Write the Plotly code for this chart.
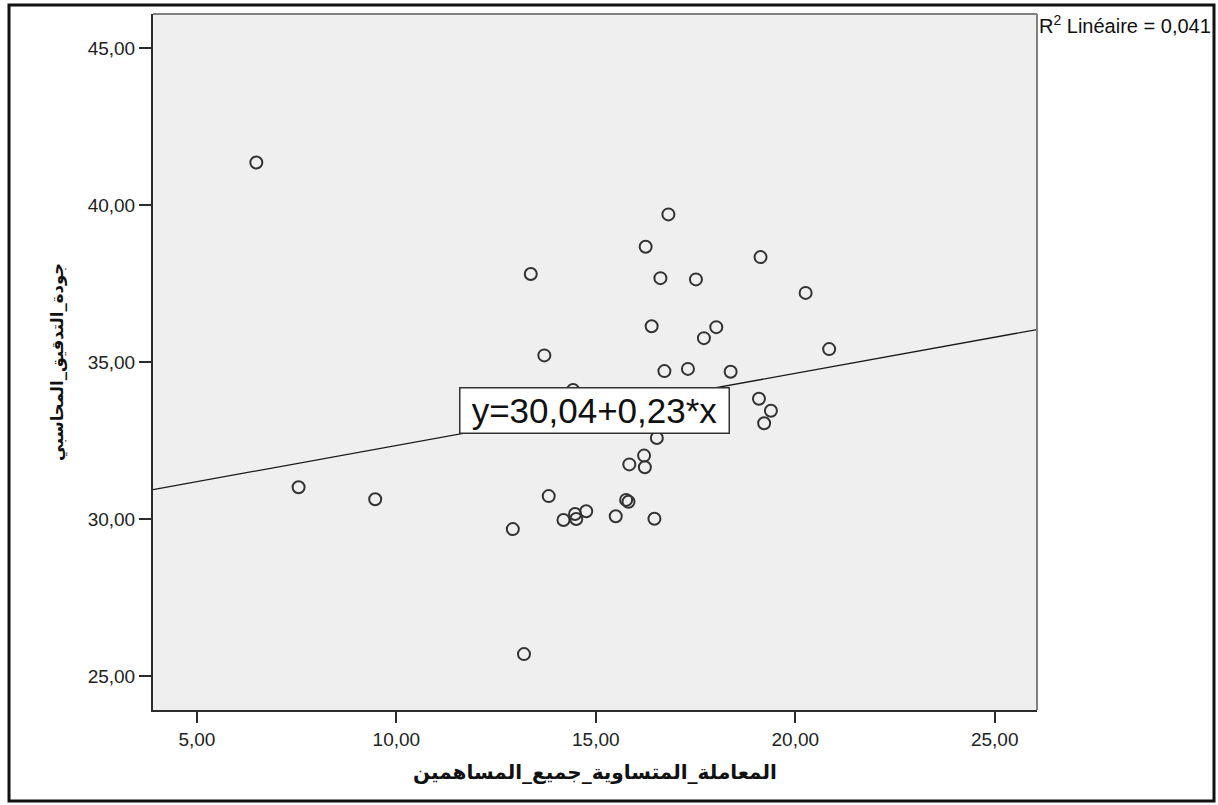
import plotly.graph_objects as go

# Observations: equal treatment of shareholders (x) vs. audit quality (y)
x_values = [6.49, 16.82, 16.25, 19.13, 13.37, 16.62, 17.51, 20.26, 16.40, 18.02,
            17.71, 20.85, 13.71, 16.72, 17.31, 18.38, 14.43, 19.09, 19.39, 19.22,
            16.53, 16.21, 15.84, 16.23, 7.55, 9.47, 13.82, 15.76, 15.82, 14.76,
            14.48, 14.19, 14.51, 15.50, 16.47, 12.92, 13.20]
y_values = [41.35, 39.70, 38.67, 38.34, 37.80, 37.67, 37.63, 37.20, 36.14, 36.11,
            35.76, 35.41, 35.21, 34.71, 34.78, 34.69, 34.11, 33.83, 33.45, 33.05,
            32.58, 32.02, 31.74, 31.65, 31.01, 30.63, 30.73, 30.61, 30.55, 30.25,
            30.16, 29.97, 30.00, 30.09, 30.01, 29.68, 25.70]

# Linear fit reported on the chart
intercept = 30.04
slope = 0.23
r_squared = "0,041"

x_ticks = [5, 10, 15, 20, 25]
x_tick_labels = ["5,00", "10,00", "15,00", "20,00", "25,00"]
y_ticks = [25, 30, 35, 40, 45]
y_tick_labels = ["25,00", "30,00", "35,00", "40,00", "45,00"]

x_title = "المعاملة_المتساوية_جميع_المساهمين"
y_title = "جودة_التدقيق_المحاسبي"

x_range = [3.9, 26.06]
y_range = [23.92, 46.08]

W, H = 1218, 805
L, R, T, B = 153, 181, 14, 95
pw, ph = W - L - R, H - T - B


def px_to_paper_x(px):
    return (px - L) / pw


def px_to_paper_y(py):
    return (H - B - py) / ph


latin = "Liberation Sans, Arial, sans-serif"
arabic = "DejaVu Sans, sans-serif"

fig = go.Figure()

fit_x = x_range
fit_y = [intercept + slope * v for v in fit_x]
fig.add_trace(go.Scatter(
    x=fit_x, y=fit_y, mode="lines",
    line=dict(color="#1a1a1a", width=1.3),
    hoverinfo="skip", showlegend=False,
))

fig.add_trace(go.Scatter(
    x=x_values, y=y_values, mode="markers",
    marker=dict(symbol="circle-open", size=12, color="#333333",
                line=dict(width=2, color="#333333")),
    showlegend=False,
))

axis_common = dict(
    showgrid=False, zeroline=False,
    showline=True, linecolor="#2b2b2b", linewidth=2,
    ticks="outside", tickwidth=2, tickcolor="#2b2b2b",
    tickfont=dict(family=latin, size=19, color="#222222"),
)

fig.update_xaxes(range=x_range, tickvals=x_ticks, ticktext=x_tick_labels,
                 ticklen=11, **axis_common)
fig.update_yaxes(range=y_range, tickvals=y_ticks, ticktext=y_tick_labels,
                 ticklen=12, **axis_common)

shapes = [
    # top and right edges of the plotting frame
    dict(type="line", xref="paper", yref="paper", x0=0, x1=1, y0=1, y1=1,
         line=dict(color="#808080", width=2)),
    dict(type="line", xref="paper", yref="paper", x0=1, x1=1, y0=0, y1=1,
         line=dict(color="#808080", width=2)),
    # outer frame around the whole chart
    dict(type="rect", xref="paper", yref="paper",
         x0=px_to_paper_x(9), x1=px_to_paper_x(1214),
         y0=px_to_paper_y(801), y1=px_to_paper_y(5),
         line=dict(color="#111111", width=3)),
]

annotations = [
    dict(text=x_title, xref="paper", yref="paper",
         x=0.5, y=px_to_paper_y(772), xanchor="center", yanchor="middle",
         showarrow=False, font=dict(family=arabic, size=20, color="#111111",
                                    weight="bold")),
    dict(text=y_title, xref="paper", yref="paper", textangle=-90,
         x=px_to_paper_x(58), y=0.5, xanchor="center", yanchor="middle",
         showarrow=False, font=dict(family=arabic, size=16.5, color="#111111",
                                    weight="bold")),
    dict(text="R<sup>2</sup> Linéaire = " + r_squared, xref="paper", yref="paper",
         x=px_to_paper_x(1037), y=px_to_paper_y(10), xanchor="left", yanchor="top",
         showarrow=False, font=dict(family=latin, size=20, color="#111111")),
    dict(text=f"y={intercept:.2f}+{slope:.2f}*x".replace(".", ","),
         xref="paper", yref="paper",
         x=px_to_paper_x(594.5), y=px_to_paper_y(410),
         xanchor="center", yanchor="middle", showarrow=False,
         width=266, height=42, borderpad=1,
         bgcolor="white", bordercolor="#333333", borderwidth=1.5,
         font=dict(family=latin, size=35, color="#111111")),
]

fig.update_layout(
    width=W, height=H,
    margin=dict(l=L, r=R, t=T, b=B),
    paper_bgcolor="white", plot_bgcolor="#efefef",
    shapes=shapes, annotations=annotations,
    showlegend=False,
)

fig.write_html("out.html")
